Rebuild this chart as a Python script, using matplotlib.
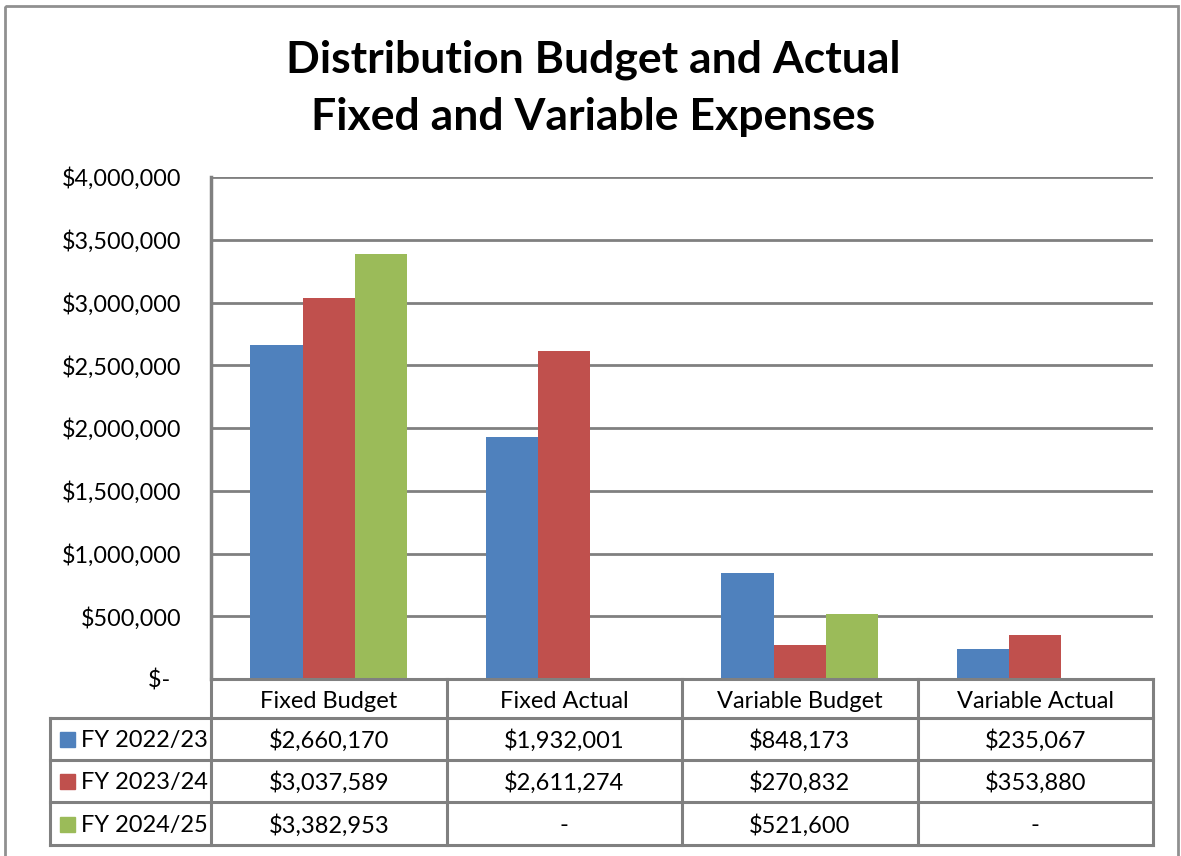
import matplotlib.pyplot as plt
import matplotlib.ticker as mticker
from matplotlib.patches import Rectangle
import numpy as np

plt.rcParams['font.family'] = ['Lato', 'DejaVu Sans']

categories = ["Fixed Budget", "Fixed Actual", "Variable Budget", "Variable Actual"]
series_names = ["FY 2022/23", "FY 2023/24", "FY 2024/25"]
fy2223 = [2660170, 1932001, 848173, 235067]
fy2324 = [3037589, 2611274, 270832, 353880]
fy2425 = [3382953, None, 521600, None]
series = [fy2223, fy2324, fy2425]
colors = ["#4F81BD", "#C0504D", "#9BBB59"]

W, H = 1181, 856
fig = plt.figure(figsize=(W / 100, H / 100), dpi=100)

# plot area, placed in pixel units
px_left, px_right, px_top, px_bottom = 211, 1153, 177, 679
ax = fig.add_axes([px_left / W, 1 - px_bottom / H,
                   (px_right - px_left) / W, (px_bottom - px_top) / H])

n = len(series)
bar_w = 1 / (n + 1.5)
x = np.arange(len(categories))
for i, (vals, c) in enumerate(zip(series, colors)):
    v = [0 if a is None else a for a in vals]
    ax.bar(x + (i - (n - 1) / 2) * bar_w, v, bar_w, color=c, zorder=3)

ax.set_xlim(-0.5, len(categories) - 0.5)
ax.set_ylim(0, 4000000)
ax.set_yticks(np.arange(0, 4000001, 500000))


def money(v, pos=None):
    if v == 0:
        return "$-  "
    return "${:,.0f}".format(v)


ax.yaxis.set_major_formatter(mticker.FuncFormatter(money))
ax.tick_params(axis='y', length=0, labelsize=16.8, pad=21)
ax.set_xticks([])
ax.yaxis.grid(True, color="#808080", linewidth=2, zorder=0)
for s in ["top", "right", "bottom"]:
    ax.spines[s].set_visible(False)
ax.spines["left"].set_color("#808080")
ax.spines["left"].set_linewidth(2.5)

# overlay in pixel coordinates for the title, frame and data table
ov = fig.add_axes([0, 0, 1, 1], zorder=5)
ov.set_xlim(0, W)
ov.set_ylim(H, 0)
ov.axis("off")
ov.patch.set_alpha(0)

ov.add_patch(Rectangle((5, 6), 1173, 900, fill=False, edgecolor="#909090", linewidth=2))
ov.text(593, 88, "Distribution Budget and Actual\nFixed and Variable Expenses",
        ha="center", va="center", fontsize=32, fontweight="bold", linespacing=1.5)

lc = "#808080"
lw = 2.2
col_x = [px_left + (px_right - px_left) * k / len(categories) for k in range(len(categories) + 1)]
row_y = [679, 718, 760, 802, 845]
leg_x = 50

# horizontal table lines
ov.plot([px_left, px_right], [row_y[0], row_y[0]], color=lc, lw=lw)
for y in row_y[1:]:
    ov.plot([leg_x, px_right], [y, y], color=lc, lw=lw)
# vertical table lines
for cx in col_x:
    ov.plot([cx, cx], [row_y[0], row_y[-1]], color=lc, lw=lw)
ov.plot([leg_x, leg_x], [row_y[1], row_y[-1]], color=lc, lw=lw)

fs = 17
for k, cat in enumerate(categories):
    cx = (col_x[k] + col_x[k + 1]) / 2
    ov.text(cx, (row_y[0] + row_y[1]) / 2 + 3, cat, ha="center", va="center", fontsize=fs)
    for r, vals in enumerate(series):
        v = vals[k]
        txt = "-" if v is None else "${:,.0f}".format(v)
        ov.text(cx, (row_y[r + 1] + row_y[r + 2]) / 2 + 2, txt, ha="center", va="center", fontsize=fs)

for r, (name, c) in enumerate(zip(series_names, colors)):
    yc = (row_y[r + 1] + row_y[r + 2]) / 2
    ov.add_patch(Rectangle((60, yc - 7), 15, 15, color=c))
    ov.text(81, yc + 2, name, ha="left", va="center", fontsize=fs)

fig.savefig("out.png", dpi=100, facecolor="white")
